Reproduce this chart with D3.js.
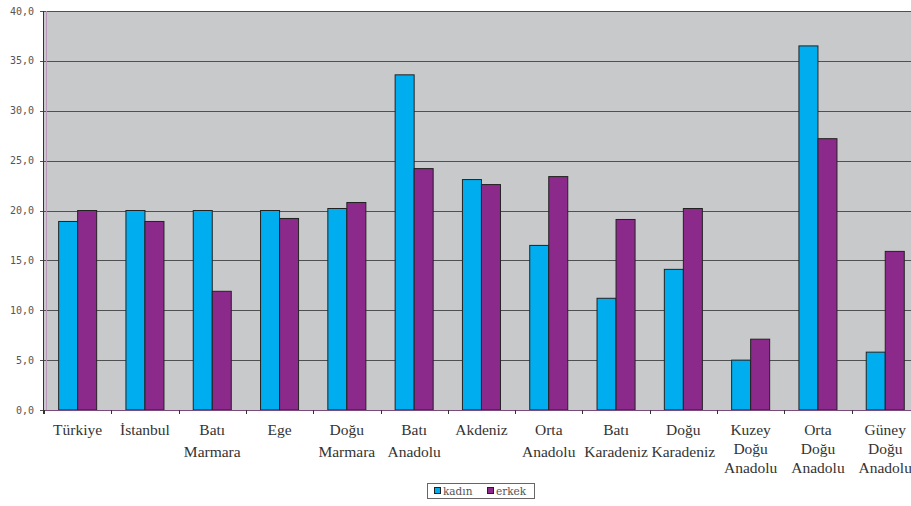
<!DOCTYPE html>
<html><head><meta charset="utf-8">
<script src="https://cdn.jsdelivr.net/npm/d3@7"></script>
<style>html,body{margin:0;padding:0;background:#fff;overflow:hidden}</style>
</head><body>
<svg id="c" width="911" height="506"></svg>
<script>
const categories = ["Türkiye","İstanbul","Batı\nMarmara","Ege","Doğu\nMarmara","Batı\nAnadolu","Akdeniz","Orta\nAnadolu","Batı\nKaradeniz","Doğu\nKaradeniz","Kuzey\nDoğu\nAnadolu","Orta\nDoğu\nAnadolu","Güney\nDoğu\nAnadolu"];
const seriesNames = ["kadın","erkek"];
const kadin = [18.9,20.0,20.0,20.0,20.2,33.6,23.1,16.5,11.2,14.1,5.0,36.5,5.8];
const erkek = [20.0,18.9,11.9,19.2,20.8,24.2,22.6,23.4,19.1,20.2,7.1,27.2,15.9];
const yTicks = [0,5,10,15,20,25,30,35,40];
const colors = {"kadın":"#00AEEF","erkek":"#8B2A8B"};

(function(){
const svg = d3.select("#c");
const pL = 44, pT = 11, pB = 410, step = 67.3;
const pR = pL + step*categories.length;

const x0 = d3.scaleBand().domain(categories).range([pL, pR]).padding(0);
const x1 = d3.scaleBand().domain(seriesNames).range([0, x0.bandwidth()]).paddingInner(0).paddingOuter(0.77);
const y = d3.scaleLinear().domain([0,40]).range([pB, pT]);

svg.append("rect").attr("x",pL).attr("y",pT).attr("width",pR-pL).attr("height",pB-pT).attr("fill","#C8C9CB");

svg.append("g").selectAll("line").data(yTicks).join("line")
  .attr("x1",pL-4).attr("x2",pR)
  .attr("y1",d=>Math.round(y(d))+0.5).attr("y2",d=>Math.round(y(d))+0.5)
  .attr("stroke","#505050").attr("stroke-width",1);

svg.append("g").selectAll("text").data(yTicks).join("text")
  .attr("x",34).attr("y",d=>y(d)).attr("dy","0.35em")
  .attr("text-anchor","end")
  .attr("font-family","DejaVu Sans Mono, monospace").attr("font-size",10)
  .attr("fill","#555")
  .text(d=>d3.format(".1f")(d).replace(".",","));

const data = categories.map((c,i)=>({c, vals:[{k:"kadın",v:kadin[i]},{k:"erkek",v:erkek[i]}]}));
const g = svg.append("g").selectAll("g").data(data).join("g")
  .attr("transform",d=>`translate(${x0(d.c)},0)`);
g.selectAll("rect").data(d=>d.vals).join("rect")
  .attr("x",d=>x1(d.k)).attr("y",d=>y(d.v))
  .attr("width",x1.bandwidth()).attr("height",d=>pB-y(d.v))
  .attr("fill",d=>colors[d.k]).attr("stroke","#222").attr("stroke-width",1);

svg.append("line").attr("x1",pL-0.5).attr("x2",pL-0.5).attr("y1",pT).attr("y2",pB+4).attr("stroke","#333");
svg.append("line").attr("x1",pL+2.5).attr("x2",pL+2.5).attr("y1",pT).attr("y2",pB).attr("stroke","#b89ab8");
svg.append("line").attr("x1",pL).attr("x2",pR).attr("y1",pB+0.5).attr("y2",pB+0.5).attr("stroke","#7a4a7a");
svg.append("g").selectAll("line").data(d3.range(categories.length+1)).join("line")
  .attr("x1",i=>Math.round(pL+i*step)+0.5).attr("x2",i=>Math.round(pL+i*step)+0.5)
  .attr("y1",pB).attr("y2",pB+4).attr("stroke","#333");

const xl = svg.append("g").selectAll("text").data(categories).join("text")
  .attr("text-anchor","middle")
  .attr("font-family","Liberation Serif, Times New Roman, serif").attr("font-size",15.5)
  .attr("fill","#333");
xl.each(function(c){
  const lines = c.split("\n");
  const lh = lines.length>2 ? 19 : 22;
  const t = d3.select(this);
  lines.forEach((ln,j)=>{
    t.append("tspan").attr("x",x0(c)+x0.bandwidth()/2).attr("y",435+j*lh).text(ln);
  });
});

const lg = svg.append("g");
lg.append("rect").attr("x",427.5).attr("y",483.5).attr("width",107).attr("height",15).attr("fill","#fff").attr("stroke","#666");
const li = lg.selectAll("g").data(seriesNames).join("g")
  .attr("transform",(d,i)=>`translate(${434+i*53},0)`);
li.append("rect").attr("x",0.5).attr("y",487.5).attr("width",6).attr("height",6)
  .attr("fill",d=>colors[d]).attr("stroke","#222");
li.append("text").attr("x",9).attr("y",491).attr("dy","0.35em")
  .attr("font-family","DejaVu Serif, serif").attr("font-size",10.5).attr("fill","#555")
  .text(d=>d);
})();
</script>
</body></html>
